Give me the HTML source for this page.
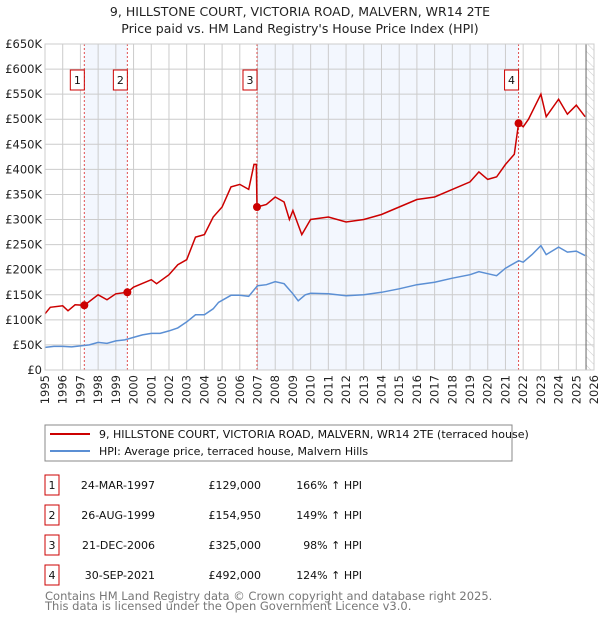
<!DOCTYPE html>
<html><head><meta charset="utf-8"><style>
body{margin:0;background:#fff;font-family:"DejaVu Sans","Liberation Sans",sans-serif}
svg{display:block}
</style></head><body>
<svg id="c" width="600" height="620" xmlns="http://www.w3.org/2000/svg" font-family="DejaVu Sans, Liberation Sans, sans-serif">
<text x="300" y="16" text-anchor="middle" font-size="12.5" fill="#222">9, HILLSTONE COURT, VICTORIA ROAD, MALVERN, WR14 2TE</text>
<text x="300" y="33" text-anchor="middle" font-size="12.5" fill="#222">Price paid vs. HM Land Registry's House Price Index (HPI)</text>
<defs><pattern id="hatch" width="6" height="6" patternUnits="userSpaceOnUse" patternTransform="rotate(-45)"><line x1="0" y1="0" x2="0" y2="6" stroke="#ccc" stroke-width="1"/></pattern></defs>
<g id="plot"></g>
<g>
<rect x="45" y="425" width="467" height="36" fill="#fff" stroke="#888"/>
<line x1="50" y1="434" x2="90" y2="434" stroke="#cc0000" stroke-width="2"/>
<text x="99" y="438" font-size="11" fill="#111">9, HILLSTONE COURT, VICTORIA ROAD, MALVERN, WR14 2TE (terraced house)</text>
<line x1="50" y1="451" x2="90" y2="451" stroke="#5b8fd4" stroke-width="2"/>
<text x="99" y="455" font-size="11" fill="#111">HPI: Average price, terraced house, Malvern Hills</text>
</g>
<g id="table" font-size="11" fill="#111"></g>
<text x="45" y="600" font-size="11.5" fill="#777">Contains HM Land Registry data © Crown copyright and database right 2025.</text>
<text x="45" y="610" font-size="11.5" fill="#777">This data is licensed under the Open Government Licence v3.0.</text>
</svg>
<script>
const hpiYears=[1995,1995.5,1996,1996.5,1997,1997.5,1998,1998.5,1999,1999.5,2000,2000.5,2001,2001.5,2002,2002.5,2003,2003.5,2004,2004.5,2004.8,2005.5,2006,2006.5,2007,2007.5,2008,2008.5,2009,2009.3,2009.7,2010,2011,2012,2013,2014,2015,2016,2017,2018,2019,2019.5,2020,2020.5,2021,2021.75,2022,2022.5,2023,2023.3,2024,2024.5,2025,2025.5];
const hpiValues=[45,47,47,46,48,50,55,53,58,60,65,70,73,73,78,84,96,110,110,122,135,149,149,147,168,170,176,172,152,138,150,153,152,148,150,155,162,170,175,183,190,196,192,188,203,218,215,230,248,230,245,235,237,228];
const redYears=[1995,1995.3,1996,1996.3,1996.7,1997.22,1998,1998.5,1999,1999.65,2000,2001,2001.3,2002,2002.5,2003,2003.5,2004,2004.5,2005,2005.5,2006,2006.5,2006.8,2006.93,2006.97,2007.5,2008,2008.5,2008.8,2009,2009.5,2010,2011,2012,2013,2014,2015,2016,2017,2018,2019,2019.5,2020,2020.5,2021,2021.5,2021.74,2022,2022.3,2023,2023.3,2024,2024.5,2025,2025.5];
const redValues=[112,125,128,118,130,129,150,140,152,155,165,180,172,190,210,220,265,270,305,325,365,370,360,410,410,325,330,345,335,300,318,270,300,305,295,300,310,325,340,345,360,375,395,380,385,410,430,492,485,500,550,505,540,510,528,505];
const saleYears=[1997.22,1999.65,2006.97,2021.74];
const saleValues=[129,154.95,325,492];
const saleLabels=["1","2","3","4"];
const saleDates=["24-MAR-1997","26-AUG-1999","21-DEC-2006","30-SEP-2021"];
const salePrices=["£129,000","£154,950","£325,000","£492,000"];
const saleHpi=["166% ↑ HPI","149% ↑ HPI","98% ↑ HPI","124% ↑ HPI"];
const yTicks=[0,50,100,150,200,250,300,350,400,450,500,550,600,650];
const yTickLabels=["£0","£50K","£100K","£150K","£200K","£250K","£300K","£350K","£400K","£450K","£500K","£550K","£600K","£650K"];
const NS="http://www.w3.org/2000/svg";
const X0=45,X1=594,Y0=370,Y1=44,T0=1995,T1=2026;
const sx=t=>X0+(t-T0)*(X1-X0)/(T1-T0);
const sy=v=>Y0-v*(Y0-Y1)/650;
const plot=document.getElementById('plot');
function mk(tag,attrs,parent){const e=document.createElementNS(NS,tag);for(const k in attrs)e.setAttribute(k,attrs[k]);(parent||plot).appendChild(e);return e;}
let e;
e=mk('rect',{x:X0,y:Y1,width:X1-X0,height:Y0-Y1,fill:'#fff'});


e=mk('rect',{x:sx(saleYears[0]),y:Y1,width:sx(saleYears[1])-sx(saleYears[0]),height:Y0-Y1,fill:'#eef3fd',opacity:0.7});


e=mk('rect',{x:sx(saleYears[2]),y:Y1,width:sx(saleYears[3])-sx(saleYears[2]),height:Y0-Y1,fill:'#eef3fd',opacity:0.7});


e=mk('rect',{x:sx(2025.55),y:Y1,width:X1-sx(2025.55),height:Y0-Y1,fill:'url(#hatch)'});


for(let i=0;i<yTicks.length;i++){
 e=mk('line',{x1:X0,x2:X1,y1:sy(yTicks[i]),y2:sy(yTicks[i]),stroke:'#ccc','stroke-width':1});
 
 
 e=mk('text',{x:X0-3,y:sy(yTicks[i])+4,'text-anchor':'end','font-size':11.5,fill:'#222'});
 e.textContent=yTickLabels[i];
 
 
}
for(let t=T0;t<=T1;t++){
 e=mk('line',{x1:sx(t),x2:sx(t),y1:Y1,y2:Y0,stroke:'#ccc','stroke-width':1});
 
 
 e=mk('text',{x:0,y:0,'text-anchor':'end','font-size':11.5,fill:'#222',transform:`translate(${sx(t)+4},${Y0+5}) rotate(-90)`});
 e.textContent=t;
 
 
}
e=mk('line',{x1:sx(2025.55),x2:sx(2025.55),y1:Y1,y2:Y0,stroke:'#666','stroke-width':1});


for(let i=0;i<saleYears.length;i++){
 e=mk('line',{x1:sx(saleYears[i]),x2:sx(saleYears[i]),y1:Y1,y2:Y0,stroke:'#e05050','stroke-width':1,'stroke-dasharray':'2,2'});
 
 
}
const pts=(xs,vs)=>xs.map((t,i)=>sx(t).toFixed(1)+','+sy(vs[i]).toFixed(1)).join(' ');
e=mk('polyline',{points:pts(hpiYears,hpiValues),fill:'none',stroke:'#5b8fd4','stroke-width':1.5});


e=mk('polyline',{points:pts(redYears,redValues),fill:'none',stroke:'#cc0000','stroke-width':1.5});


for(let i=0;i<saleYears.length;i++){
 e=mk('circle',{cx:sx(saleYears[i]),cy:sy(saleValues[i]),r:4,fill:'#cc0000'});
 
 
 const bx=sx(saleYears[i])-14;
 e=mk('rect',{x:bx,y:70,width:14,height:20,fill:'#fff',stroke:'#cc0000','stroke-width':1});
 
 
 e=mk('text',{x:bx+7,y:84,'text-anchor':'middle','font-size':11,fill:'#111'});
 e.textContent=saleLabels[i];
 
 
}
e=mk('rect',{x:X0,y:Y1,width:X1-X0,height:Y0-Y1,fill:'none',stroke:'#ccc'});


const tb=document.getElementById('table');
for(let i=0;i<saleDates.length;i++){
 const y=475+i*30;
 e=mk('rect',{x:45,y:y,width:14,height:20,fill:'#fff',stroke:'#cc0000'},tb);
 
 
 e=mk('text',{x:52,y:y+14,'text-anchor':'middle'},tb);e.textContent=saleLabels[i];
 
 
 e=mk('text',{x:155,y:y+14,'text-anchor':'end'},tb);e.textContent=saleDates[i];
 
 
 e=mk('text',{x:261,y:y+14,'text-anchor':'end'},tb);e.textContent=salePrices[i];
 
 
 e=mk('text',{x:362,y:y+14,'text-anchor':'end'},tb);e.textContent=saleHpi[i];
 
 
}
</script>
</body></html>
